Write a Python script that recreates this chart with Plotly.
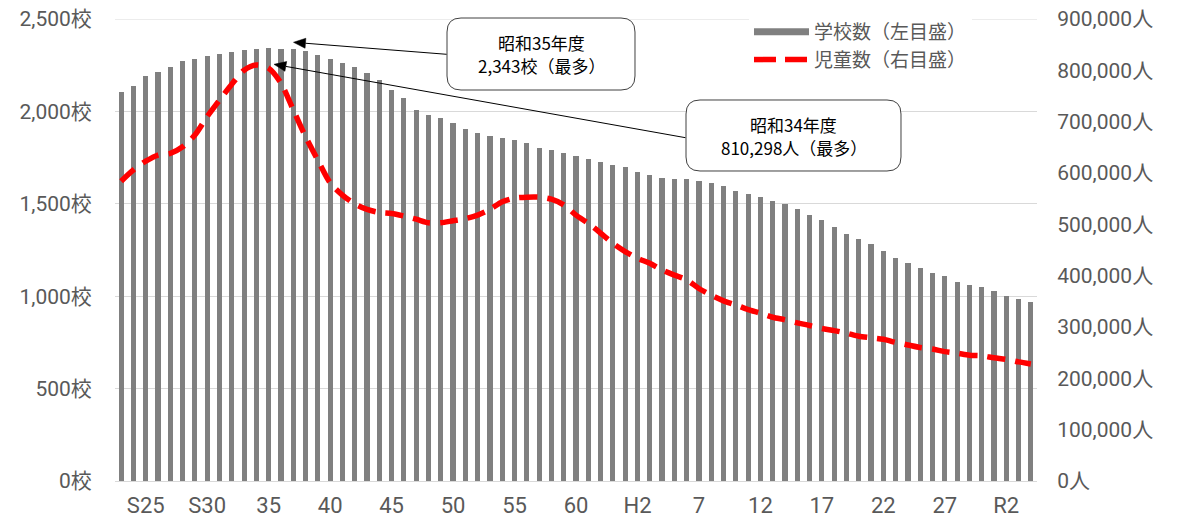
import math
import plotly.graph_objects as go

# Fiscal years (S23 = 1948 ... R4 = 2022)
years = list(range(1948, 2023))

# Number of schools (left axis)
schools = [2107, 2139, 2190, 2215, 2242, 2271, 2284, 2298, 2309, 2320,
           2331, 2336, 2343, 2338, 2335, 2328, 2307, 2282, 2260, 2242,
           2209, 2168, 2116, 2071, 2006, 1981, 1963, 1936, 1903, 1883,
           1869, 1858, 1845, 1827, 1804, 1789, 1777, 1759, 1742, 1725,
           1710, 1697, 1674, 1656, 1641, 1634, 1636, 1623, 1614, 1598,
           1569, 1553, 1537, 1517, 1499, 1470, 1438, 1411, 1373, 1337,
           1308, 1284, 1246, 1205, 1178, 1153, 1126, 1108, 1075, 1061,
           1048, 1028, 1001, 983, 969]

# Number of pupils (right axis)
pupils = [584000, 606000, 623000, 635000, 638000, 651000, 674000, 710000, 742000, 773000,
          800000, 810298, 804000, 775000, 723000, 671000, 625000, 581000, 557000, 540000,
          529000, 523000, 521000, 516000, 510000, 503000, 503000, 507000, 511000, 518000,
          529000, 544000, 551000, 553000, 553000, 549000, 538000, 518000, 502000, 483000,
          463000, 447000, 434000, 424000, 411000, 401000, 392000, 375000, 362000, 351000,
          343000, 334000, 327000, 319000, 314000, 308000, 303000, 297000, 293000, 288000,
          282000, 279000, 276000, 270000, 265000, 260000, 257000, 252000, 249000, 245000,
          244000, 240000, 237000, 232000, 228000]

# X tick labels
tick_years = [1950, 1955, 1960, 1965, 1970, 1975, 1980, 1985, 1990, 1995,
              2000, 2005, 2010, 2015, 2020]
tick_labels = ["S25", "S30", "35", "40", "45", "50", "55", "60", "H2", "7",
               "12", "17", "22", "27", "R2"]

# Y tick values / labels
left_ticks = [0, 500, 1000, 1500, 2000, 2500]
left_labels = [f"{v:,}校" for v in left_ticks]
right_ticks = [0, 100000, 200000, 300000, 400000, 500000, 600000, 700000, 800000, 900000]
right_labels = [f"{v:,}人" for v in right_ticks]

# Callout texts
callout1 = ["昭和35年度", "2,343校（最多）"]
callout2 = ["昭和34年度", "810,298人（最多）"]

FONT = "Noto Sans CJK JP"
TICKFONT = "Roboto, Noto Sans CJK JP"
TICK_COLOR = "#595959"
GRID = "#d9d9d9"
OFF = 8  # page body margin
W, H = 1169, 509
ML, MT = 115 - OFF, 19 - OFF
MB = H - (481 - OFF)
MR = W - (1037 - OFF)
PW, PH = W - ML - MR, H - MT - MB

fig = go.Figure()

fig.add_trace(go.Bar(x=years, y=schools, width=0.42, marker=dict(color="#808080", line=dict(width=0)),
                     name="学校数（左目盛）", showlegend=False, yaxis="y"))
fig.add_trace(go.Scatter(x=years, y=pupils, mode="lines", yaxis="y2", showlegend=False,
                         line=dict(color="#ff0000", width=5.5, dash="18px,10px", shape="spline", smoothing=0.8),
                         name="児童数（右目盛）"))

# legend entries
fig.add_trace(go.Scatter(x=[None], y=[None], mode="lines", name="学校数（左目盛）",
                         line=dict(color="#808080", width=7), legendgroup="a"))
fig.add_trace(go.Scatter(x=[None], y=[None], mode="lines", name="児童数（右目盛）",
                         line=dict(color="#ff0000", width=5.5, dash="22px,9px"), legendgroup="b"))


def px2paper(px, py):
    # screen pixel -> paper coords
    return (px - OFF - ML) / PW, (H - MB - (py - OFF)) / PH


def P(x, y):
    a, b = px2paper(x, y)
    return f"{a:.5f},{b:.5f}"


def rrect(x0, y0, x1, y1, r):
    return (f"M {P(x0 + r, y0)} L {P(x1 - r, y0)} Q {P(x1, y0)} {P(x1, y0 + r)} "
            f"L {P(x1, y1 - r)} Q {P(x1, y1)} {P(x1 - r, y1)} "
            f"L {P(x0 + r, y1)} Q {P(x0, y1)} {P(x0, y1 - r)} "
            f"L {P(x0, y0 + r)} Q {P(x0, y0)} {P(x0 + r, y0)} Z")


def arrow_shapes(tx, ty, hx, hy, length=12, half=5):
    dx, dy = hx - tx, hy - ty
    d = math.hypot(dx, dy)
    ux, uy = dx / d, dy / d
    bx, by = hx - ux * length, hy - uy * length
    nx, ny = -uy, ux
    line = dict(type="path", xref="paper", yref="paper",
                path=f"M {P(tx, ty)} L {P(bx, by)}",
                line=dict(color="#000000", width=1), layer="above")
    head = dict(type="path", xref="paper", yref="paper",
                path=f"M {P(hx, hy)} L {P(bx + nx * half, by + ny * half)} L {P(bx - nx * half, by - ny * half)} Z",
                line=dict(color="#000000", width=0.5), fillcolor="#000000", layer="above")
    return [line, head]


shapes = [dict(type="line", xref="paper", x0=0, x1=1, yref="y", y0=left_ticks[-1], y1=left_ticks[-1],
               line=dict(color=GRID, width=1), layer="below")]
shapes += arrow_shapes(446.7, 54.3, 293.5, 42.3)
shapes += arrow_shapes(685.5, 137.7, 274, 64.3)
for (bx0, by0, bx1, by1) in [(447, 18, 635, 90), (686, 100, 901, 171)]:
    shapes.append(dict(type="path", xref="paper", yref="paper", path=rrect(bx0, by0, bx1, by1, 14),
                       line=dict(color="#404040", width=1), fillcolor="white", layer="above"))

annotations = []
for lines, cxp, ys in [(callout1, 541, (42.5, 65.5)), (callout2, 793.5, (124, 147))]:
    for txt, ypx in zip(lines, ys):
        ax_, ay_ = px2paper(cxp, ypx)
        annotations.append(dict(x=ax_, y=ay_, xref="paper", yref="paper", showarrow=False,
                                xanchor="center", yanchor="middle", text=txt,
                                font=dict(family=FONT, size=17, color="#000000")))

lx, ly = px2paper(749, 13)

fig.update_layout(
    width=W, height=H,
    margin=dict(l=ML, r=MR, t=MT, b=MB, autoexpand=False),
    paper_bgcolor="white", plot_bgcolor="white",
    font=dict(family=FONT, color=TICK_COLOR, size=20),
    bargap=0,
    xaxis=dict(range=[1947.5, 2022.5], tickmode="array", tickvals=tick_years, ticktext=tick_labels,
               showgrid=False, showline=True, linecolor=GRID, linewidth=1,
               ticks="outside", ticklen=5, tickcolor="rgba(0,0,0,0)", ticklabeloverflow="allow",
               tickfont=dict(family=TICKFONT, size=22, color=TICK_COLOR), zeroline=False),
    yaxis=dict(range=[0, 2500], tickmode="array", tickvals=left_ticks, ticktext=left_labels,
               showgrid=True, gridcolor=GRID, gridwidth=1, zeroline=False,
               ticks="outside", ticklen=18, tickcolor="rgba(0,0,0,0)", ticklabeloverflow="allow",
               tickfont=dict(family=TICKFONT, size=21, color=TICK_COLOR)),
    yaxis2=dict(range=[0, 900000], tickmode="array", tickvals=right_ticks, ticktext=right_labels,
                overlaying="y", side="right", showgrid=False, zeroline=False,
                ticks="outside", ticklen=15, tickcolor="rgba(0,0,0,0)", ticklabeloverflow="allow",
                tickfont=dict(family=TICKFONT, size=21, color=TICK_COLOR)),
    legend=dict(x=lx, y=ly, xanchor="left", yanchor="top", bgcolor="white",
                font=dict(family=FONT, size=19, color=TICK_COLOR),
                itemwidth=55, tracegroupgap=33, traceorder="normal"),
    shapes=shapes,
    annotations=annotations,
)

fig.write_html("out.html")
